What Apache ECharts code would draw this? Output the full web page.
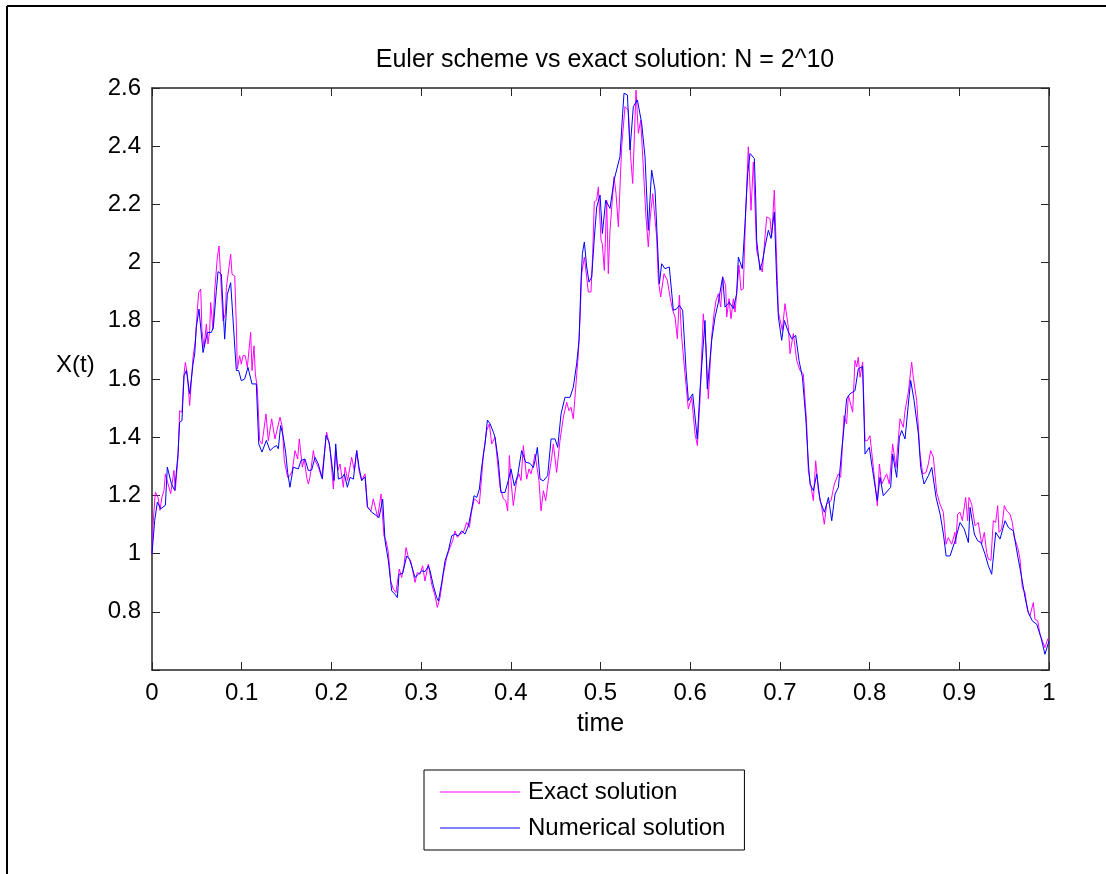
<!DOCTYPE html>
<html>
<head>
<meta charset="utf-8">
<script src="https://cdn.jsdelivr.net/npm/echarts/dist/echarts.min.js"></script>
<style>
html,body{margin:0;padding:0;background:#fff;}
#chart{width:1106px;height:874px;}
</style>
</head>
<body>
<div id="chart"></div>
<script>
// ---- Data ----
const titleText = 'Euler scheme vs exact solution: N = 2^10';
const seriesNames = ['Exact solution', 'Numerical solution'];
const xTicks = [0, 0.1, 0.2, 0.3, 0.4, 0.5, 0.6, 0.7, 0.8, 0.9, 1];
const yTicks = [0.8, 1, 1.2, 1.4, 1.6, 1.8, 2, 2.2, 2.4, 2.6];

// Exact solution (magenta)
const exactT = [0,0.0011,0.0037,0.0067,0.0089,0.0111,0.0134,0.0149,0.0171,0.0208,0.0223,0.0245,0.026,0.029,0.0308,0.0334,0.0357,0.0372,0.0394,0.042,0.0438,0.0457,0.0483,0.0505,0.052,0.0543,0.0557,0.058,0.0606,0.0624,0.0643,0.0654,0.068,0.0699,0.0728,0.0747,0.0766,0.0792,0.0818,0.0829,0.0847,0.0877,0.0892,0.0922,0.094,0.0951,0.0977,0.0996,0.1014,0.104,0.1063,0.11,0.1115,0.1137,0.1152,0.1174,0.12,0.1226,
0.1271,0.1297,0.1334,0.1371,0.1427,0.1453,0.1475,0.1512,0.1538,0.1564,0.1594,0.1624,0.1642,0.1676,0.1698,0.1724,0.1743,0.1761,0.1799,0.1817,0.1854,0.1892,0.1921,0.1947,0.1984,0.2022,0.2048,0.207,0.2096,0.2133,0.2152,0.2181,0.2226,0.2256,0.2282,0.2308,0.2337,0.2375,0.2404,0.2441,0.2467,0.2486,0.2516,0.2553,
0.256,0.2586,0.2609,0.2635,0.2661,0.269,0.272,0.2757,0.2783,0.2809,0.2832,0.2858,0.2884,0.2932,0.2958,0.2988,0.3017,0.3043,0.3081,0.3118,0.3155,0.3181,0.3211,0.3248,0.3285,0.3322,0.3352,0.3378,0.3404,0.3434,0.3471,0.3508,0.3538,0.3564,0.3593,0.362,0.3649,0.3675,0.3694,0.3731,0.3761,0.3787,0.3824,
0.388,0.3917,0.3943,0.3965,0.3984,0.4002,0.4028,0.4065,0.4091,0.4114,0.414,0.4177,0.4203,0.4225,0.4251,0.427,0.4314,0.4337,0.4363,0.4389,0.4418,0.4456,0.4474,0.4511,0.4548,0.4586,0.4623,0.4649,0.4671,0.4697,0.4716,0.4753,0.4771,0.479,0.482,0.4846,0.4864,0.4894,0.4913,0.4931,0.4957,0.4976,0.5006,0.502,0.5043,0.5069,0.5087,
0.5106,0.5151,0.5173,0.5199,0.5236,0.5273,0.531,0.5336,0.5359,0.5396,0.5422,0.5448,0.5477,0.5507,0.5533,0.5552,0.5582,0.5626,0.5645,0.5671,0.5708,0.5745,0.5775,0.5805,0.5831,0.5857,0.5879,0.5905,0.5942,0.5979,0.6016,0.6054,0.608,0.6109,0.6146,0.6176,0.6202,0.6239,0.6265,0.6288,0.6314,0.634,0.6362,
0.6395,0.6407,0.6433,0.6455,0.6481,0.65,0.6544,0.6566,0.6592,0.6618,0.6648,0.6678,0.6704,0.6741,0.6778,0.6804,0.6834,0.6853,0.689,0.6908,0.6938,0.6983,0.7027,0.7057,0.7094,0.7113,0.715,0.7168,0.7187,0.7224,0.7261,0.7298,0.7317,0.7336,0.7373,0.7399,0.7429,0.7466,0.7495,0.7521,0.757,0.7607,0.7651,
0.7678,0.77,0.7715,0.7744,0.7763,0.7789,0.7811,0.7837,0.7856,0.7874,0.7893,0.7923,0.7949,0.7975,0.8004,0.8042,0.8086,0.8109,0.8135,0.819,0.822,0.8257,0.8294,0.8339,0.8376,0.8395,0.8432,0.8469,0.8487,0.8525,0.8562,0.8592,0.8629,0.8655,0.8681,0.8711,0.8748,0.8785,0.8822,0.8852,0.8878,0.8915,0.8952,
0.896,0.8982,0.9008,0.9034,0.9071,0.9093,0.9108,0.9138,0.9156,0.9175,0.9212,0.9249,0.9279,0.9305,0.9324,0.9353,0.9379,0.9405,0.9428,0.9443,0.9472,0.9502,0.9528,0.9565,0.9591,0.9613,0.9651,0.9677,0.9703,0.9732,0.9762,0.9788,0.9825,0.9844,0.9874,0.99,0.9926,0.9955,0.9985,1.0];
const exactX = [1.0,1.097,1.211,1.194,1.149,1.194,1.217,1.274,1.28,1.206,1.206,1.286,1.217,1.331,1.491,1.486,1.617,1.657,1.617,1.509,1.514,1.674,1.731,1.834,1.897,1.909,1.766,1.709,1.789,1.72,1.766,1.863,1.771,1.903,2.017,2.057,1.949,1.80,1.823,1.914,1.92,2.029,1.96,1.954,1.789,1.634,1.68,1.651,1.68,1.68,1.64,1.76,1.629,1.714,1.617,1.571,1.389,1.377,
1.48,1.388,1.463,1.394,1.469,1.434,1.32,1.262,1.268,1.285,1.354,1.325,1.394,1.297,1.325,1.262,1.239,1.262,1.354,1.32,1.297,1.262,1.343,1.417,1.365,1.222,1.354,1.285,1.308,1.228,1.297,1.251,1.331,1.285,1.354,1.285,1.251,1.274,1.159,1.147,1.188,1.188,1.124,1.205,
1.205,1.061,1.044,1.004,0.906,0.878,0.866,0.947,0.918,0.958,1.021,0.987,0.975,0.901,0.935,0.929,0.958,0.906,0.964,0.895,0.855,0.815,0.849,0.929,0.987,1.021,1.044,1.078,1.056,1.067,1.073,1.107,1.09,1.147,1.188,1.182,1.17,1.262,1.342,1.423,1.446,1.377,1.40,
1.228,1.188,1.182,1.147,1.337,1.251,1.165,1.251,1.274,1.251,1.371,1.256,1.291,1.274,1.308,1.342,1.251,1.147,1.216,1.182,1.251,1.331,1.377,1.279,1.388,1.469,1.52,1.491,1.503,1.463,1.463,1.687,1.801,1.962,2.019,1.951,1.899,1.899,2.031,2.209,2.214,2.26,2.077,2.065,1.973,2.214,1.962,
2.111,2.295,2.237,2.123,2.398,2.536,2.524,2.364,2.272,2.593,2.444,2.49,2.329,2.157,2.054,2.146,2.237,2.088,1.939,1.882,1.962,1.939,1.882,1.836,1.813,1.738,1.888,1.744,1.618,1.497,1.537,1.411,1.371,1.526,1.824,1.71,1.532,1.744,1.824,1.87,1.893,1.847,1.951,
1.922,1.813,1.876,1.807,1.876,1.83,1.991,1.905,1.91,2.169,2.398,2.18,2.346,2.042,1.991,1.968,2.088,2.157,2.151,2.088,2.249,1.83,1.767,1.859,1.778,1.687,1.756,1.756,1.664,1.629,1.618,1.446,1.285,1.251,1.182,1.319,1.216,1.159,1.101,1.17,1.182,1.239,1.274,
1.262,1.388,1.474,1.446,1.543,1.514,1.486,1.664,1.641,1.675,1.606,1.658,1.388,1.388,1.405,1.296,1.164,1.308,1.239,1.274,1.239,1.377,1.296,1.463,1.434,1.491,1.555,1.658,1.606,1.526,1.342,1.274,1.279,1.308,1.354,1.331,1.21,1.17,1.142,1.032,1.055,1.032,1.073,
1.033,1.136,1.142,1.113,1.193,1.113,1.193,1.17,1.165,1.096,1.107,1.033,1.073,1.004,0.981,0.977,1.113,1.107,1.165,1.073,1.084,1.165,1.147,1.136,1.107,1.056,1.021,0.981,0.883,0.866,0.803,0.786,0.832,0.774,0.769,0.723,0.70,0.677,0.706,0.711];

// Numerical solution (blue)
const numT = [0,0.003,0.006,0.0097,0.0149,0.0171,0.0216,0.0253,0.029,0.0308,0.0334,0.0357,0.0383,0.042,0.0457,0.0476,0.0494,0.0524,0.0569,0.0617,0.0661,0.0684,0.0717,0.0736,0.0773,0.081,0.084,0.0877,0.094,0.0966,0.0996,0.1033,0.107,0.1115,0.1163,0.119,0.1226,0.1275,
0.1316,0.1353,0.139,0.1408,0.1434,0.1464,0.149,0.1512,0.1538,0.1575,0.1631,0.1661,0.1706,0.1743,0.178,0.1817,0.1854,0.1899,0.194,0.1974,0.2029,0.2048,0.2078,0.2122,0.2145,0.2178,0.2208,0.2245,0.2282,0.2308,0.2338,0.2375,0.2401,0.2449,0.2505,0.2531,
0.2572,0.2598,0.2635,0.2672,0.271,0.2735,0.2754,0.2795,0.2839,0.2869,0.2895,0.2932,0.297,0.3007,0.3044,0.3081,0.31,0.3137,0.3174,0.3193,0.323,0.3267,0.3304,0.3341,0.3378,0.3415,0.3452,0.349,0.3527,0.3564,0.359,0.362,0.365,0.3675,0.3713,0.3739,0.3769,0.3806,
0.3824,0.3861,0.389,0.3935,0.3972,0.4002,0.4039,0.4076,0.4121,0.4166,0.4214,0.4251,0.427,0.4296,0.4326,0.4363,0.4411,0.4449,0.4493,0.4523,0.456,0.4604,0.466,0.4697,0.4734,0.4761,0.4783,0.4798,0.482,0.4846,0.4872,0.4902,0.4932,0.4958,0.4995,0.5021,0.5058,0.5106,
0.5151,0.5217,0.5247,0.5262,0.53,0.5329,0.5366,0.5411,0.5459,0.5496,0.5533,0.557,0.5608,0.5656,0.5682,0.5719,0.5767,0.5812,0.5849,0.5879,0.5916,0.5954,0.598,0.6028,0.6079,0.6109,0.6165,0.6191,0.624,0.6277,0.6314,0.6362,0.6388,0.6436,
0.6481,0.6518,0.6537,0.6581,0.6611,0.6641,0.6667,0.6715,0.673,0.6741,0.6778,0.6804,0.6834,0.6871,0.6901,0.6938,0.6964,0.6983,0.702,0.705,0.7087,0.7132,0.7176,0.7213,0.7251,0.7288,0.7318,0.7336,0.7374,0.7411,0.7448,0.7496,0.7541,0.7578,0.7615,0.7652,
0.7689,0.772,0.7744,0.7781,0.7837,0.7874,0.7922,0.7949,0.7997,0.8034,0.8086,0.8116,0.8153,0.8235,0.8257,0.8302,0.8332,0.8358,0.8395,0.8432,0.8458,0.8496,0.8544,0.857,0.8607,0.8656,0.8693,0.8741,0.8786,0.8823,0.8853,0.8897,0.8953,
0.9008,0.9056,0.9101,0.912,0.9168,0.9205,0.9242,0.9287,0.9324,0.9361,0.9406,0.9454,0.951,0.9547,0.9603,0.9651,0.9695,0.9733,0.977,0.9814,0.9863,0.9911,0.9955,1.0];
const numX = [1.0,1.114,1.177,1.154,1.166,1.297,1.24,1.217,1.343,1.451,1.457,1.611,1.629,1.549,1.651,1.686,1.777,1.84,1.691,1.76,1.76,1.777,1.903,1.969,1.96,1.737,1.891,1.931,1.629,1.629,1.594,1.60,1.64,1.583,1.583,1.377,1.349,1.389,
1.354,1.365,1.371,1.36,1.44,1.40,1.348,1.279,1.228,1.297,1.291,1.32,1.325,1.285,1.287,1.331,1.308,1.256,1.406,1.383,1.251,1.377,1.256,1.262,1.274,1.228,1.262,1.256,1.354,1.297,1.251,1.264,1.161,1.142,1.13,1.124,
1.187,1.044,0.975,0.872,0.86,0.849,0.929,0.932,0.992,0.981,0.958,0.918,0.929,0.941,0.938,0.958,0.941,0.889,0.849,0.837,0.901,0.975,1.01,1.061,1.067,1.061,1.078,1.067,1.096,1.153,1.199,1.193,1.222,1.297,1.377,1.459,1.446,1.417,
1.40,1.319,1.21,1.21,1.251,1.291,1.233,1.268,1.354,1.314,1.31,1.296,1.319,1.365,1.256,1.25,1.268,1.394,1.394,1.365,1.48,1.537,1.537,1.572,1.652,1.733,1.939,2.031,2.071,1.985,1.933,1.951,2.088,2.191,2.232,2.10,2.214,2.186,
2.283,2.364,2.513,2.582,2.576,2.387,2.536,2.559,2.479,2.364,2.111,2.318,2.249,1.927,1.996,1.979,1.985,1.836,1.841,1.853,1.836,1.629,1.526,1.549,1.394,1.56,1.801,1.566,1.733,1.813,1.864,1.951,1.847,1.864,
1.842,1.893,2.019,1.979,2.134,2.306,2.375,2.358,2.226,2.077,1.974,2.002,2.054,2.111,2.083,2.174,1.939,1.813,1.733,1.801,1.767,1.738,1.75,1.664,1.606,1.469,1.308,1.239,1.216,1.274,1.182,1.142,1.193,1.113,1.205,1.228,
1.354,1.45,1.532,1.549,1.56,1.635,1.643,1.342,1.365,1.285,1.182,1.262,1.199,1.228,1.342,1.262,1.40,1.423,1.394,1.514,1.595,1.526,1.411,1.296,1.239,1.268,1.296,1.193,1.136,1.067,0.992,0.992,1.044,
1.107,1.084,1.038,1.159,1.067,1.044,1.038,0.998,0.958,0.929,1.073,1.05,1.113,1.09,1.078,0.992,0.918,0.849,0.797,0.769,0.757,0.711,0.654,0.70];

// ---- Chart ----
const FONT = '"Liberation Sans", Arial, Helvetica, sans-serif';
const AXIS_COLOR = '#262626';
const exactData = exactT.map((t, i) => [t, exactX[i]]);
const numData = numT.map((t, i) => [t, numX[i]]);

function fmt(v) { return String(+v.toFixed(1)); }

const chart = echarts.init(document.getElementById('chart'), null, {renderer: 'canvas'});
const axisCommon = {
  axisLine: {show: true, onZero: false, lineStyle: {color: AXIS_COLOR, width: 1.5}},
  axisTick: {show: true, inside: true, length: 8, lineStyle: {color: AXIS_COLOR, width: 1}},
  splitLine: {show: false}
};
chart.setOption({
  animation: false,
  backgroundColor: '#fff',
  title: {
    text: titleText, left: 600, top: 43, textAlign: 'center',
    textStyle: {fontFamily: FONT, fontSize: 25, fontWeight: 'normal', color: '#000'}
  },
  grid: {left: 152, top: 88, width: 897, height: 582, containLabel: false},
  legend: {
    orient: 'vertical', left: 424, top: 770,
    padding: [10, 19, 10, 16], itemGap: 12, itemWidth: 80, itemHeight: 1,
    icon: 'rect', borderColor: '#000', borderWidth: 1,
    textStyle: {fontFamily: FONT, fontSize: 24, color: '#000', padding: [0, 0, 0, 3]},
    data: seriesNames
  },
  xAxis: [
    Object.assign({
      type: 'value', min: 0, max: 1, interval: 0.1, position: 'bottom',
      name: 'time', nameLocation: 'middle', nameGap: 42,
      nameTextStyle: {fontFamily: FONT, fontSize: 25, color: '#000'},
      axisLabel: {margin: 11, fontFamily: FONT, fontSize: 24, color: '#000',
        formatter: v => xTicks.some(x => Math.abs(x - v) < 1e-6) ? fmt(v) : ''}
    }, axisCommon),
    Object.assign({
      type: 'value', min: 0, max: 1, interval: 0.1, position: 'top',
      axisLabel: {show: false}
    }, axisCommon)
  ],
  yAxis: [
    Object.assign({
      type: 'value', min: 0.6, max: 2.6, interval: 0.2, position: 'left',
      axisLabel: {margin: 11, fontFamily: FONT, fontSize: 24, color: '#000',
        formatter: v => yTicks.some(y => Math.abs(y - v) < 1e-6) ? fmt(v) : ''}
    }, axisCommon),
    Object.assign({
      type: 'value', min: 0.6, max: 2.6, interval: 0.2, position: 'right',
      axisLabel: {show: false}
    }, axisCommon)
  ],
  graphic: [
    {type: 'line', shape: {x1: 7, y1: 6, x2: 1106, y2: 6}, style: {stroke: '#000', lineWidth: 2}},
    {type: 'line', shape: {x1: 7, y1: 6, x2: 7, y2: 874}, style: {stroke: '#000', lineWidth: 2}},
    {type: 'text', left: 56, top: 353, style: {text: 'X(t)', font: '24px ' + FONT, fill: '#000'}}
  ],
  series: [
    {name: seriesNames[0], type: 'line', data: exactData, showSymbol: false, symbol: 'none',
     lineStyle: {color: '#ff00ff', width: 1}, itemStyle: {color: '#ff00ff'}, z: 2},
    {name: seriesNames[1], type: 'line', data: numData, showSymbol: false, symbol: 'none',
     lineStyle: {color: '#0000ff', width: 1}, itemStyle: {color: '#0000ff'}, z: 3}
  ]
});
</script>
</body>
</html>
